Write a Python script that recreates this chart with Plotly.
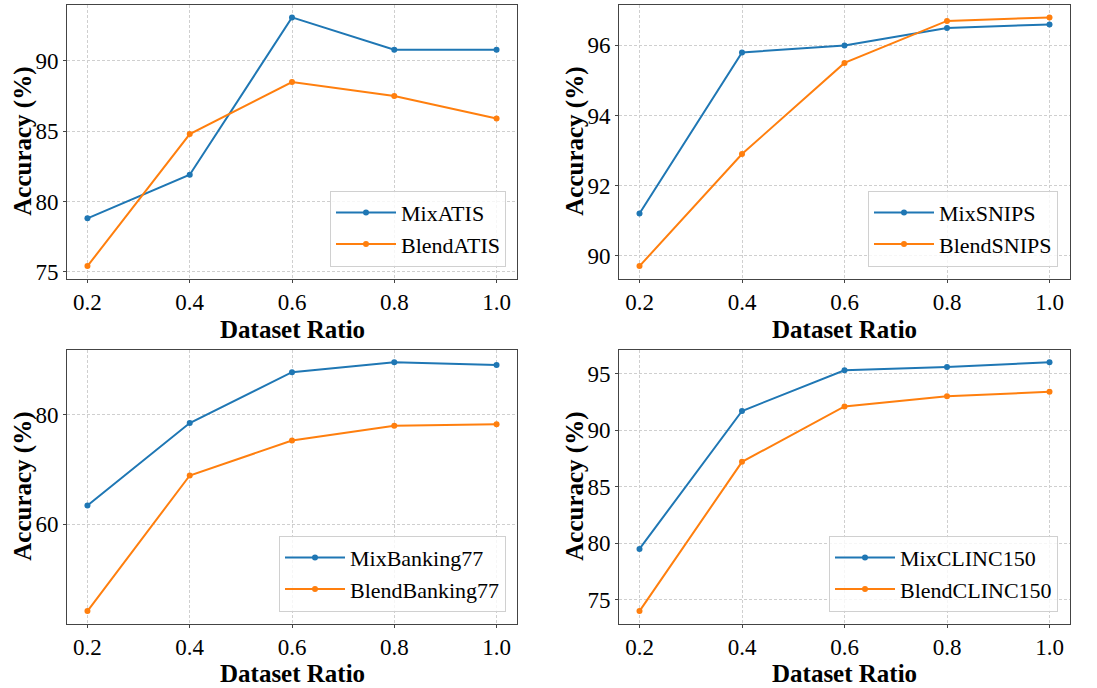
import plotly.graph_objects as go

ratios = [0.2, 0.4, 0.6, 0.8, 1.0]
ratio_labels = ["0.2", "0.4", "0.6", "0.8", "1.0"]

mix_atis = [78.8, 81.9, 93.1, 90.8, 90.8]
blend_atis = [75.4, 84.8, 88.5, 87.5, 85.9]
mix_snips = [91.2, 95.8, 96.0, 96.5, 96.6]
blend_snips = [89.7, 92.9, 95.5, 96.7, 96.8]
mix_banking = [63.4, 78.5, 87.8, 89.6, 89.1]
blend_banking = [44.1, 68.9, 75.3, 78.0, 78.3]
mix_clinc = [79.5, 91.7, 95.3, 95.6, 96.0]
blend_clinc = [74.0, 87.2, 92.1, 93.0, 93.4]

x_title = "Dataset Ratio"
y_title = "Accuracy (%)"

panels = [
    ("MixATIS", mix_atis, "BlendATIS", blend_atis, 5),
    ("MixSNIPS", mix_snips, "BlendSNIPS", blend_snips, 2),
    ("MixBanking77", mix_banking, "BlendBanking77", blend_banking, 20),
    ("MixCLINC150", mix_clinc, "BlendCLINC150", blend_clinc, 5),
]

BLUE = "#1f77b4"
ORANGE = "#ff7f0e"
FONT = "Liberation Serif"
W, H = 1097, 688

# pixel boxes of each axes (left, right, top, bottom)
boxes = [
    (67, 517, 5, 281),
    (619, 1070, 5, 281),
    (67, 517, 353, 629),
    (619, 1070, 353, 629),
]
legend_pos = [
    (506, 269),
    (1058, 269),
    (506, 617),
    (1058, 617),
]
ytitle_x = [23, 575, 23, 575]
xtitle_y = [332, 332, 679, 679]

fig = go.Figure()
layout = {}
annotations = []
for i, (n1, v1, n2, v2, dt) in enumerate(panels):
    k = i + 1
    sfx = "" if k == 1 else str(k)
    leg = "legend" if k == 1 else f"legend{k}"
    for name, vals, col in ((n1, v1, BLUE), (n2, v2, ORANGE)):
        fig.add_trace(go.Scatter(
            x=ratios, y=vals, name=name, mode="lines+markers",
            line=dict(color=col, width=2), marker=dict(color=col, size=6),
            xaxis="x" + sfx, yaxis="y" + sfx, legend=leg,
        ))
    allv = v1 + v2
    lo, hi = min(allv), max(allv)
    pad = (hi - lo) * 0.05
    l, r, t, b = boxes[i]
    axcommon = dict(
        showline=True, mirror=True, linecolor="#444444", linewidth=1,
        ticks="outside", ticklen=3, tickcolor="#444444",
        showgrid=True, gridcolor="#cfcfcf", griddash="3px,2px", gridwidth=1,
        zeroline=False, tickfont=dict(family=FONT, size=23, color="black"),
    )
    layout["xaxis" + sfx] = dict(
        axcommon, domain=[l / W, r / W], anchor="y" + sfx,
        range=[0.16, 1.04], tickvals=ratios, ticktext=ratio_labels,
    )
    layout["yaxis" + sfx] = dict(
        axcommon, domain=[1 - b / H, 1 - t / H], anchor="x" + sfx,
        range=[lo - pad, hi + pad], dtick=dt,
    )
    annotations.append(dict(
        text=f"<b>{x_title}</b>", xref="paper", yref="paper",
        x=(l + r) / 2 / W, y=1 - xtitle_y[i] / H, xanchor="center", yanchor="middle",
        showarrow=False, font=dict(family=FONT, size=25, color="black"),
    ))
    annotations.append(dict(
        text=f"<b>{y_title}</b>", xref="paper", yref="paper", textangle=-90,
        x=ytitle_x[i] / W, y=1 - (t + b) / 2 / H, xanchor="center", yanchor="middle",
        showarrow=False, font=dict(family=FONT, size=25, color="black"),
    ))
    lx, ly = legend_pos[i]
    layout[leg] = dict(
        x=lx / W, y=1 - ly / H, xanchor="right", yanchor="bottom",
        xref="paper", yref="paper",
        bgcolor="rgba(255,255,255,0.8)", bordercolor="#d0d0d0", borderwidth=1,
        font=dict(family=FONT, size=22, color="black"),
        itemwidth=60, tracegroupgap=2,
    )

fig.update_layout(
    width=W, height=H, margin=dict(l=0, r=0, t=0, b=0),
    paper_bgcolor="white", plot_bgcolor="white",
    showlegend=True, annotations=annotations, **layout,
)
fig.write_html("out.html")
